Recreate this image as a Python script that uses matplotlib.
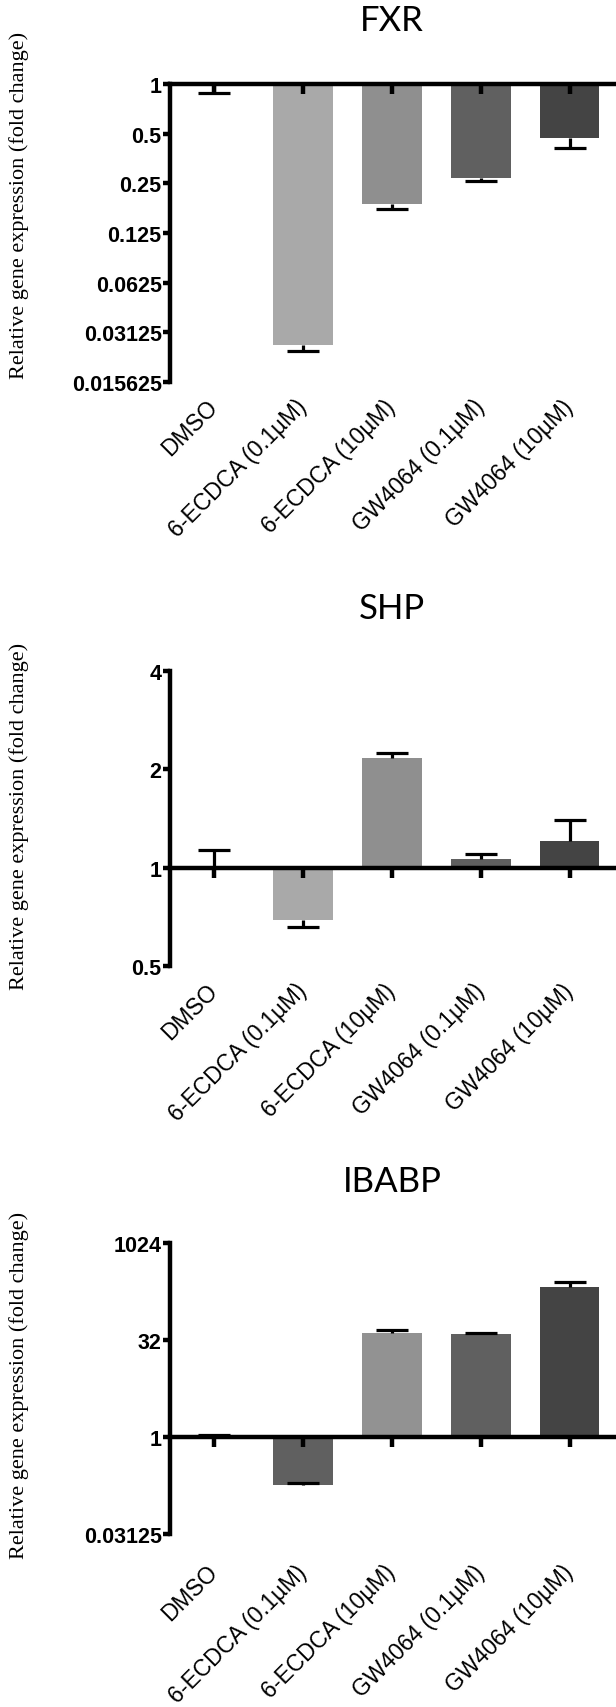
import matplotlib
matplotlib.use("Agg")
import matplotlib.pyplot as plt
from matplotlib.ticker import NullLocator

plt.rcParams["font.family"] = ["Liberation Sans", "DejaVu Sans"]

groups = ["DMSO", "6-ECDCA (0.1µM)", "6-ECDCA (10µM)", "GW4064 (0.1µM)", "GW4064 (10µM)"]

fxr_mean = [1.0, 0.026, 0.187, 0.27, 0.47]
fxr_err_end = [0.88, 0.024, 0.175, 0.259, 0.41]
fxr_ticks = [1, 0.5, 0.25, 0.125, 0.0625, 0.03125, 0.015625]
fxr_ticklabels = ["1", "0.5", "0.25", "0.125", "0.0625", "0.03125", "0.015625"]

shp_mean = [1.0, 0.69, 2.17, 1.06, 1.21]
shp_err_end = [1.13, 0.658, 2.25, 1.10, 1.40]
shp_ticks = [0.5, 1, 2, 4]
shp_ticklabels = ["0.5", "1", "2", "4"]

ibabp_mean = [1.02, 0.18, 41.7, 39.0, 216.0]
ibabp_err_end = [1.08, 0.19, 45.7, 41.7, 256.0]
ibabp_ticks = [0.03125, 1, 32, 1024]
ibabp_ticklabels = ["0.03125", "1", "32", "1024"]

grey_a = ["white", "#a9a9a9", "#8f8f8f", "#606060", "#444444"]
grey_b = ["white", "#606060", "#929292", "#606060", "#444444"]

LW = 3.2


def draw_panel(ax, title, means, err_end, ticks, ticklabels, colors, ylim, label_y, xpad):
    x = list(range(len(groups)))
    heights = [m - 1 for m in means]
    ax.bar(x, heights, bottom=1, width=0.67, color=colors, edgecolor="none", zorder=1)
    # one-sided error bars with cap
    ax.vlines(x, means, err_end, color="black", lw=2.3, zorder=2)
    ax.hlines(err_end, [i - 0.18 for i in x], [i + 0.18 for i in x], color="black", lw=2.3, zorder=2)

    ax.set_yscale("log", base=2)
    ax.set_ylim(*ylim)
    ax.set_xlim(-0.5, 4.5)
    ax.set_yticks(ticks, ticklabels, fontweight="bold", fontsize=15.5)
    ax.yaxis.set_minor_locator(NullLocator())
    ax.tick_params(axis="y", length=5, width=LW, pad=1)

    for s in ["top", "right"]:
        ax.spines[s].set_visible(False)
    ax.spines["left"].set_linewidth(LW)
    ax.spines["bottom"].set_linewidth(LW)
    ax.spines["bottom"].set_position(("data", 1))
    ax.set_xticks(x)
    ax.tick_params(axis="x", direction="out", length=7, width=LW, labelbottom=False)

    sec = ax.secondary_xaxis("bottom")
    sec.set_xticks(x)
    sec.set_xticklabels(groups, rotation=45, ha="right", va="center",
                        rotation_mode="anchor", fontsize=16.5)
    sec.tick_params(length=0, pad=xpad)
    sec.spines["bottom"].set_visible(False)

    ax.text(0.5, 1.215, title, transform=ax.transAxes, ha="center", va="center",
            fontfamily="Lato", fontsize=25)
    ax.set_ylabel("Relative gene expression (fold change)", fontfamily="Liberation Serif", fontsize=16)
    ax.yaxis.set_label_coords(-0.318, label_y)


fig = plt.figure(figsize=(6.16, 17.08), dpi=100)
left, width = 0.276, 0.7208
ax1 = fig.add_axes([left, 0.7758, width, 0.1744])
ax2 = fig.add_axes([left, 0.4338, width, 0.1727])
ax3 = fig.add_axes([left, 0.1015, width, 0.1701])

draw_panel(ax1, "FXR", fxr_mean, fxr_err_end, fxr_ticks, fxr_ticklabels, grey_a,
           (0.015625, 1), 0.595, 15)
draw_panel(ax2, "SHP", shp_mean, shp_err_end, shp_ticks, shp_ticklabels, grey_a,
           (0.5, 4), 0.512, 15)
draw_panel(ax3, "IBABP", ibabp_mean, ibabp_err_end, ibabp_ticks, ibabp_ticklabels, grey_b,
           (0.03125, 1024), 0.514, 25)

fig.savefig("out.png", dpi=100)
